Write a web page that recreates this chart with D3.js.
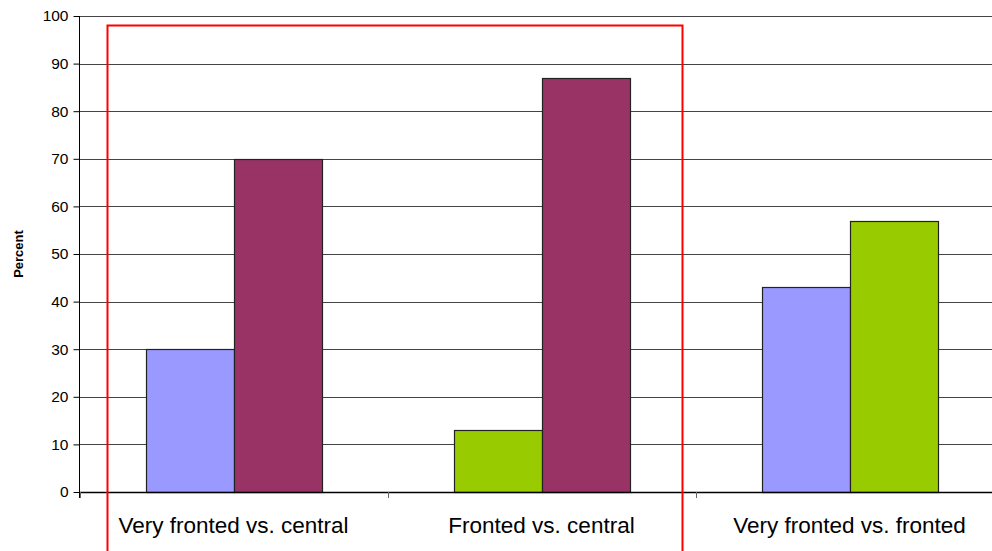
<!DOCTYPE html>
<html>
<head>
<meta charset="utf-8">
<script src="https://cdn.jsdelivr.net/npm/d3@7"></script>
<style>
  html, body { margin: 0; padding: 0; background: #fff; }
  svg { display: block; }
</style>
</head>
<body>
<div id="chart"></div>
<script>
// ---- Data ----
const categories = ["Very fronted vs. central", "Fronted vs. central", "Very fronted vs. fronted"];
const leftSeries = ["Very fronted", "Fronted", "Very fronted"];
const leftValues = [30, 13, 43];
const rightSeries = ["Central", "Central", "Fronted"];
const rightValues = [70, 87, 57];
const seriesNames = ["Very fronted", "Central", "Fronted"];
const yTicks = [0, 10, 20, 30, 40, 50, 60, 70, 80, 90, 100];
const yLabel = "Percent";

// ---- Layout ----
const W = 992, H = 551;
const plotLeft = 79.5, plotTop = 16, plotBottom = 492, catWidth = 308;
const plotRight = plotLeft + catWidth * categories.length;

const svg = d3.select("#chart").append("svg").attr("width", W).attr("height", H);

const color = d3.scaleOrdinal().domain(seriesNames).range(["#9999FF", "#993366", "#99CC00"]);

const x = d3.scaleBand().domain(categories).range([plotLeft, plotRight]).paddingInner(0).paddingOuter(0);
const slot = d3.scaleBand().domain(["left", "right"]).range([0, x.bandwidth()]).paddingOuter(0.75).paddingInner(0);
const y = d3.scaleLinear().domain([0, 100]).range([plotBottom, plotTop]);

// gridlines
svg.append("g").selectAll("line").data(yTicks.filter(d => d > 0)).join("line")
  .attr("x1", plotLeft).attr("x2", W)
  .attr("y1", d => Math.round(y(d)) + 0.5).attr("y2", d => Math.round(y(d)) + 0.5)
  .attr("stroke", "#444").attr("stroke-width", 1);

// bars
const rows = [];
categories.forEach((c, i) => {
  rows.push({cat: c, slot: "left", series: leftSeries[i], value: leftValues[i]});
  rows.push({cat: c, slot: "right", series: rightSeries[i], value: rightValues[i]});
});
svg.append("g").selectAll("rect").data(rows).join("rect")
  .attr("x", d => Math.round(x(d.cat) + slot(d.slot)) + 0.5)
  .attr("y", d => Math.round(y(d.value)) + 0.5)
  .attr("width", slot.bandwidth())
  .attr("height", d => Math.round(y(0)) - Math.round(y(d.value)))
  .attr("fill", d => color(d.series))
  .attr("stroke", "#222").attr("stroke-width", 1.2);

// y axis
const yAxis = svg.append("g").attr("transform", `translate(${plotLeft},0)`)
  .call(d3.axisLeft(y).tickValues(yTicks).tickSize(6).tickPadding(5));
yAxis.select(".domain").attr("stroke", "#000").attr("d", `M-0,${plotTop}V${plotBottom + 6}`);
yAxis.selectAll(".tick line").attr("stroke", "#000");
yAxis.selectAll(".tick text").attr("font-family", "Liberation Sans, Arial, sans-serif")
  .attr("font-size", 15.5).attr("fill", "#000");

// x axis
const xAxisG = svg.append("g").attr("transform", `translate(0,${plotBottom})`);
xAxisG.append("line").attr("x1", plotLeft).attr("x2", W).attr("y1", 0.5).attr("y2", 0.5)
  .attr("stroke", "#000").attr("stroke-width", 1.5);
const bounds = categories.map(c => x(c)).concat([plotRight]);
xAxisG.selectAll("line.tk").data(bounds).join("line").attr("class", "tk")
  .attr("x1", d => Math.round(d) + 0.5).attr("x2", d => Math.round(d) + 0.5)
  .attr("y1", 0).attr("y2", 6).attr("stroke", "#666");
xAxisG.selectAll("text").data(categories).join("text")
  .attr("x", d => x(d) + x.bandwidth() / 2)
  .attr("y", 41)
  .attr("text-anchor", "middle")
  .attr("font-family", "Liberation Sans, Arial, sans-serif")
  .attr("font-size", 22.5).attr("fill", "#000")
  .text(d => d);

// y label
svg.append("text")
  .attr("transform", `translate(23,${(plotTop + plotBottom) / 2}) rotate(-90)`)
  .attr("text-anchor", "middle")
  .attr("font-family", "Liberation Sans, Arial, sans-serif")
  .attr("font-size", 13).attr("font-weight", "bold").attr("fill", "#000")
  .text(yLabel);

// red highlight box around first two categories
const boxLeft = x(categories[0]) + 28, boxRight = x(categories[2]) - 13;
svg.append("path")
  .attr("d", `M${boxLeft},${H + 5}V${y(98)}H${boxRight}V${H + 5}`)
  .attr("fill", "none").attr("stroke", "#FF0000").attr("stroke-width", 2);
</script>
</body>
</html>
